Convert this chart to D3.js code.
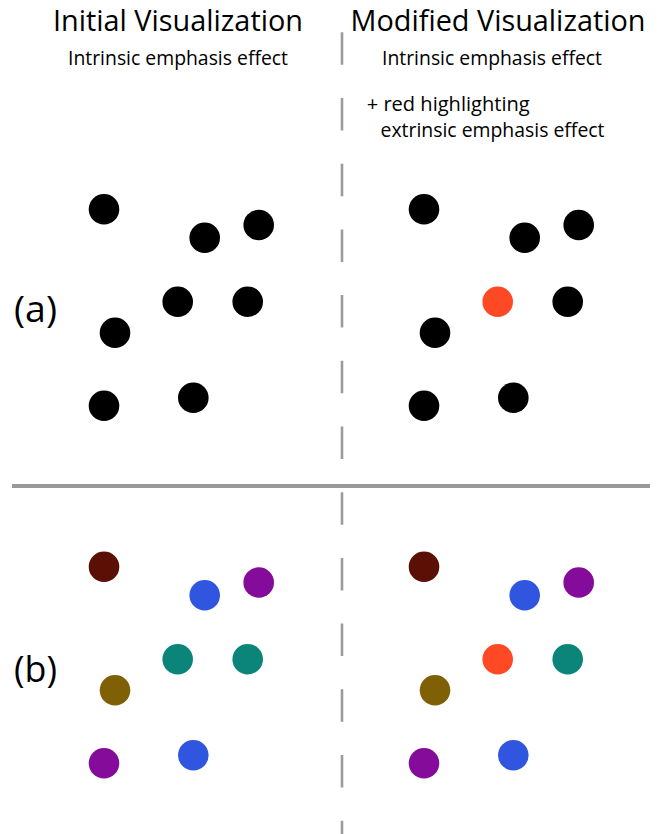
<!DOCTYPE html>
<html>
<head>
<meta charset="utf-8">
<script src="https://cdn.jsdelivr.net/npm/d3@7"></script>
<style>
  html, body { margin: 0; padding: 0; background: #fff; }
  svg { display: block; }
  text { font-family: "Open Sans", "Noto Sans", sans-serif; fill: #000; }
</style>
</head>
<body>
<script>
// ---- data ----
const panelTitles = ["Initial Visualization", "Modified Visualization"];
const panelSubtitles = ["Intrinsic emphasis effect", "Intrinsic emphasis effect"];
const extraNotes = ["+ red highlighting", "extrinsic emphasis effect"];
const rowLabels = ["(a)", "(b)"];
const pointX = [0, 10.07, 15.47, 7.37, 14.37, 1.1, 0, 8.93];
const pointY = [19.64, 16.8, 18.07, 10.4, 10.4, 7.3, 0, 0.8];
const rowAColors = ["#000", "#000", "#000", "#000", "#000", "#000", "#000", "#000"];
const rowBColors = ["#5c0f05", "#3056e0", "#850c9a", "#0b857a", "#0b857a", "#7f6005", "#850c9a", "#3056e0"];
const highlightIndex = 3;
const highlightColor = "#ff4925";

// ---- layout ----
const W = 663, H = 834;
const svg = d3.select("body").append("svg").attr("width", W).attr("height", H);

const panelOffsetX = [0, 320];
const rowOffsetY = [0, 357.5];

const x = d3.scaleLinear().domain([0, 20]).range([104, 304]);
const y = d3.scaleLinear().domain([0, 20]).range([405.7, 205.7]);

// divider lines
svg.append("line")
  .attr("x1", 342).attr("x2", 342).attr("y1", 32.3).attr("y2", H)
  .attr("stroke", "#9b9b9b").attr("stroke-width", 2.6)
  .attr("stroke-dasharray", "32.5 33.2");
svg.append("line")
  .attr("x1", 12).attr("x2", 650).attr("y1", 486).attr("y2", 486)
  .attr("stroke", "#999").attr("stroke-width", 4);

// titles
const titleCX = [178, 498];
const titleW = [250, 295];
panelTitles.forEach((t, i) => {
  svg.append("text").attr("x", titleCX[i]).attr("y", 30.5)
    .attr("text-anchor", "middle").attr("font-size", 28.5)
    .attr("textLength", titleW[i]).attr("lengthAdjust", "spacingAndGlyphs")
    .text(t);
});
const subCX = [178, 492];
panelSubtitles.forEach((t, i) => {
  svg.append("text").attr("x", subCX[i]).attr("y", 65)
    .attr("text-anchor", "middle").attr("font-size", 20)
    .attr("textLength", 220).attr("lengthAdjust", "spacingAndGlyphs")
    .text(t);
});
svg.append("text").attr("x", 366.7).attr("y", 110.7)
  .attr("font-size", 20).attr("textLength", 163).attr("lengthAdjust", "spacingAndGlyphs")
  .text(extraNotes[0]);
svg.append("text").attr("x", 380.5).attr("y", 136.7)
  .attr("font-size", 20).attr("textLength", 224).attr("lengthAdjust", "spacingAndGlyphs")
  .text(extraNotes[1]);

// row labels
const labelBase = [321.5, 681.5];
rowLabels.forEach((t, i) => {
  svg.append("text").attr("x", 14).attr("y", labelBase[i])
    .attr("font-size", 36).attr("textLength", 43).attr("lengthAdjust", "spacingAndGlyphs")
    .text(t);
});

// points
const rowColors = [rowAColors, rowBColors];
const pts = d3.range(pointX.length);
[0, 1].forEach(r => {
  [0, 1].forEach(p => {
    svg.append("g")
      .attr("transform", `translate(${panelOffsetX[p]},${rowOffsetY[r]})`)
      .selectAll("circle").data(pts).join("circle")
      .attr("cx", i => x(pointX[i]))
      .attr("cy", i => y(pointY[i]))
      .attr("r", 15.3)
      .attr("fill", i => (p === 1 && i === highlightIndex) ? highlightColor : rowColors[r][i]);
  });
});
</script>
</body>
</html>
